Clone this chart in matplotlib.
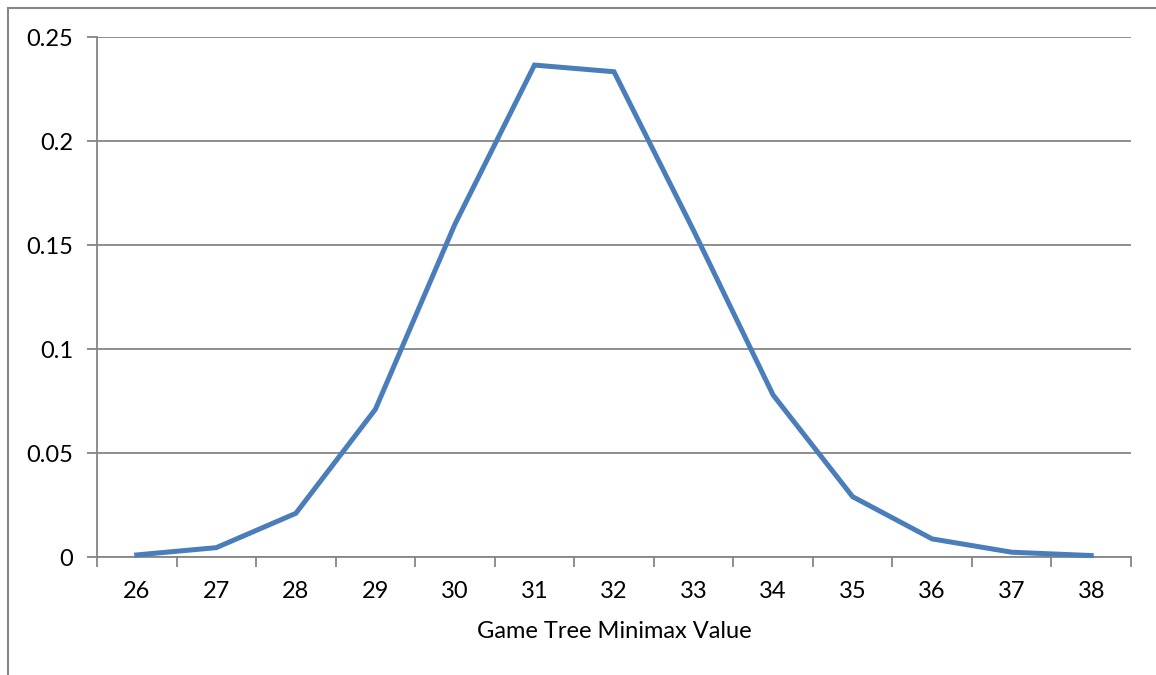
import matplotlib
matplotlib.use("Agg")
import matplotlib.pyplot as plt
from matplotlib.lines import Line2D
import numpy as np

categories = ["26", "27", "28", "29", "30", "31", "32", "33", "34", "35", "36", "37", "38"]
values = [0.001, 0.0045, 0.021, 0.071, 0.160, 0.2365, 0.2333, 0.157, 0.0779, 0.029, 0.0087, 0.0023, 0.0007]
yticks = [0, 0.05, 0.1, 0.15, 0.2, 0.25]
ytick_labels = ["0", "0.05", "0.1", "0.15", "0.2", "0.25"]
xlabel = "Game Tree Minimax Value"

plt.rcParams['font.family'] = ['Lato', 'DejaVu Sans']
W, H = 1156, 675
fig = plt.figure(figsize=(W / 100, H / 100), dpi=100)
ax = fig.add_axes([97 / W, 1 - 557 / H, (1131 - 97) / W, (557 - 37) / H])

gray = "#868686"
fs = 17
x = np.arange(len(categories))
ax.plot(x, values, color="#4a7ebb", lw=3.6, solid_joinstyle="miter", zorder=3, clip_on=False)

ax.set_xlim(-0.5, len(categories) - 0.5)
ax.set_ylim(0, 0.25)
ax.set_yticks(yticks)
ax.set_yticklabels(ytick_labels)
ax.yaxis.grid(True, color=gray, lw=1.3)
ax.set_axisbelow(True)

ax.set_xticks(x)
ax.set_xticklabels(categories)
ax.tick_params(axis="x", which="major", length=0, pad=17, labelsize=fs)
ax.set_xticks(np.arange(-0.5, len(categories)), minor=True)
ax.tick_params(axis="x", which="minor", length=7, width=1.3, color=gray, direction="out")
ax.tick_params(axis="y", length=7, width=1.3, color=gray, direction="out", pad=10, labelsize=fs)

for s in ["top", "right"]:
    ax.spines[s].set_visible(False)
for s in ["left", "bottom"]:
    ax.spines[s].set_color(gray)
    ax.spines[s].set_linewidth(1.3)

ax.set_xlabel(xlabel, fontsize=fs, labelpad=14)

# outer chart frame (partially visible)
fig.add_artist(Line2D([8 / W, 8 / W], [0, 1 - 8 / H], transform=fig.transFigure, color=gray, lw=1.5))
fig.add_artist(Line2D([8 / W, 1], [1 - 8 / H, 1 - 8 / H], transform=fig.transFigure, color=gray, lw=1.5))

fig.savefig("out.png", dpi=100)
